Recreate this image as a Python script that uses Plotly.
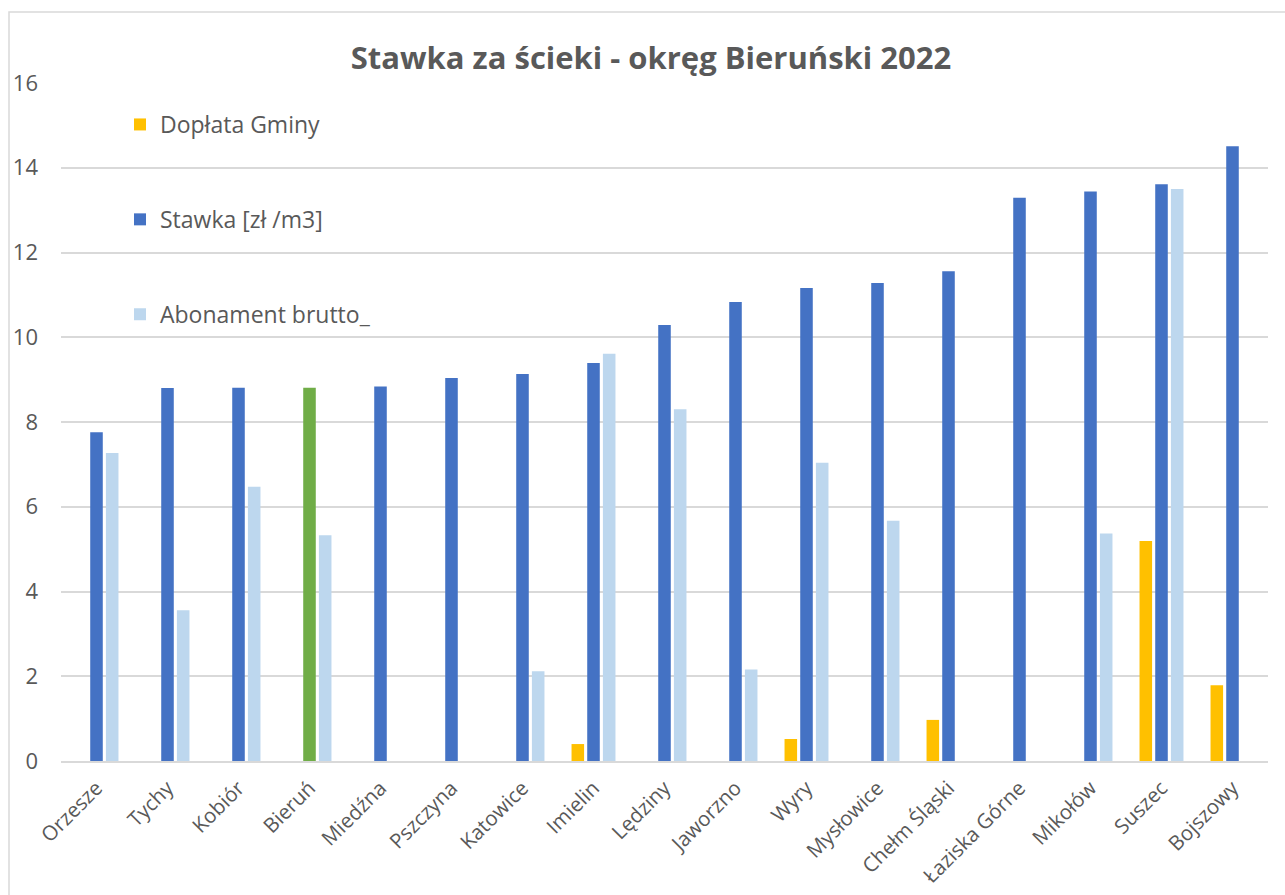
import plotly.graph_objects as go

categories = ["Orzesze", "Tychy", "Kobiór", "Bieruń", "Miedźna", "Pszczyna", "Katowice",
              "Imielin", "Lędziny", "Jaworzno", "Wyry", "Mysłowice", "Chełm Śląski",
              "Łaziska Górne", "Mikołów", "Suszec", "Bojszowy"]
doplata = [None, None, None, None, None, None, None, 0.40, None, None, 0.52, None, 0.97,
           None, None, 5.19, 1.79]
stawka = [7.76, 8.80, 8.81, 8.81, 8.84, 9.04, 9.13, 9.39, 10.29, 10.83, 11.16, 11.28, 11.56,
          13.29, 13.44, 13.61, 14.51]
abonament = [7.27, 3.56, 6.47, 5.33, None, None, 2.12, 9.61, 8.30, 2.16, 7.04, 5.67, None,
             None, 5.37, 13.50, None]
y_ticks = [0, 2, 4, 6, 8, 10, 12, 14, 16]

series_names = ["Dopłata Gminy", "Stawka [zł /m3]", "Abonament brutto_"]
highlight = "Bieruń"

ORANGE = "#FFC000"
BLUE = "#4472C4"
LIGHT = "#BDD7EE"
GREEN = "#70AD47"
TXT = "#595959"
GRID = "#D9D9D9"
FONT = "Open Sans"

stawka_colors = [GREEN if c == highlight else BLUE for c in categories]

fig = go.Figure()
fig.add_trace(go.Bar(name=series_names[0], x=categories, y=doplata,
                     marker=dict(color=ORANGE, line=dict(width=0)), legendgroup="a"))
fig.add_trace(go.Bar(name=series_names[1], x=categories, y=stawka,
                     marker=dict(color=stawka_colors, line=dict(width=0)), legendgroup="b"))
fig.add_trace(go.Bar(name=series_names[2], x=categories, y=abonament,
                     marker=dict(color=LIGHT, line=dict(width=0)), legendgroup="c"))

L, R, T, B = 61, 17, 83, 134
W, H = 1285, 895
pw = W - L - R
ph = H - T - B

def px_x(p):
    return (p - L) / pw

def px_y(p):
    return (H - B - p) / ph

fig.update_layout(
    width=W, height=H,
    margin=dict(l=L, r=R, t=T, b=B, autoexpand=False),
    paper_bgcolor="white", plot_bgcolor="white",
    font=dict(family=FONT, color=TXT, size=21),
    barmode="group", bargap=0.337, bargroupgap=0.2,
    title=dict(text="<b>Stawka za ścieki - okręg Bieruński 2022</b>",
               x=651 / W, xref="container", xanchor="center",
               y=1 - 58 / H, yref="container", yanchor="middle",
               font=dict(family=FONT, size=31, color=TXT)),
    legend=dict(x=px_x(120), y=px_y(103), xanchor="left", yanchor="top",
                traceorder="grouped", tracegroupgap=62,
                font=dict(family=FONT, size=23, color=TXT),
                bgcolor="rgba(0,0,0,0)", itemwidth=30),
    showlegend=True,
    xaxis=dict(tickangle=-45, showgrid=False, showline=True, linecolor=GRID, linewidth=2,
               ticks="", tickfont=dict(size=20.5, color=TXT), zeroline=False,
               ticklabelstandoff=5),
    yaxis=dict(range=[0, 16], tickvals=y_ticks, showgrid=True, gridcolor=GRID, gridwidth=1.5,
               showline=False, zeroline=False, ticks="", tickfont=dict(size=22, color=TXT),
               ticklabelstandoff=22),
    shapes=[dict(type="rect", xref="paper", yref="paper",
                 x0=px_x(9), x1=px_x(1300), y0=px_y(912), y1=px_y(12),
                 line=dict(color=GRID, width=1.5), fillcolor="rgba(0,0,0,0)", layer="below")],
)

fig.write_html("out.html", config={"displayModeBar": False},
               post_script="document.body.style.margin='0';")
